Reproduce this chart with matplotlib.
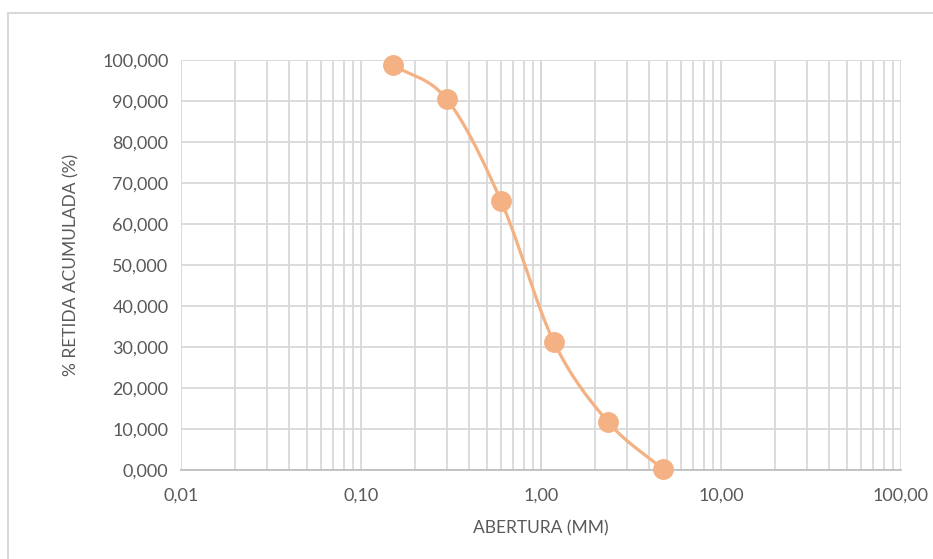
import numpy as np
import matplotlib.pyplot as plt
from matplotlib.ticker import FixedLocator, FuncFormatter, LogLocator

# dados da curva granulométrica
abertura = [0.15, 0.30, 0.60, 1.18, 2.36, 4.75]
retida_acum = [98.8, 90.4, 65.6, 31.2, 11.7, 0.2]

y_ticks = [0, 10, 20, 30, 40, 50, 60, 70, 80, 90, 100]
x_ticks = [0.01, 0.1, 1, 10, 100]

cor = "#F4B183"
cor_texto = "#595959"
cor_grade = "#D9D9D9"


def suavizar(xs, ys, n=30):
    # linha suavizada tipo Excel (Catmull-Rom), em escala log no x
    lx = np.log10(xs)
    ys = np.asarray(ys, dtype=float)
    px = np.concatenate([[2 * lx[0] - lx[1]], lx, [2 * lx[-1] - lx[-2]]])
    py = np.concatenate([[2 * ys[0] - ys[1]], ys, [2 * ys[-1] - ys[-2]]])
    out_x, out_y = [], []
    t = np.linspace(0, 1, n)
    for i in range(1, len(px) - 2):
        p0, p1, p2, p3 = px[i - 1:i + 3]
        q0, q1, q2, q3 = py[i - 1:i + 3]
        for a, b, c, d, res in ((p0, p1, p2, p3, out_x), (q0, q1, q2, q3, out_y)):
            c1 = b + (c - a) / 6
            c2 = c - (d - b) / 6
            res.extend((1 - t) ** 3 * b + 3 * (1 - t) ** 2 * t * c1
                       + 3 * (1 - t) * t ** 2 * c2 + t ** 3 * c)
    return 10 ** np.array(out_x), np.array(out_y)


plt.rcParams['font.family'] = ['Lato', 'DejaVu Sans']

fig = plt.figure(figsize=(9.33, 5.59), dpi=100)
ax = fig.add_axes([181 / 933, 1 - 470 / 559, 720 / 933, 410 / 559])

# moldura do gráfico
fig.patches.append(plt.Rectangle((8 / 933, -0.01), 1.1, 1 - 13 / 559 + 0.01,
                                 transform=fig.transFigure, fill=False,
                                 edgecolor=cor_grade, linewidth=1.5))

sx, sy = suavizar(abertura, retida_acum)
ax.plot(sx, sy, color=cor, linewidth=2.3, zorder=3, solid_capstyle='round')
ax.plot(abertura, retida_acum, 'o', color=cor, markersize=14, zorder=4,
        clip_on=False)

ax.set_xscale('log')
ax.set_xlim(0.01, 100)
ax.set_ylim(0, 100)

ax.xaxis.set_major_locator(FixedLocator(x_ticks))
ax.xaxis.set_minor_locator(LogLocator(base=10, subs=np.arange(2, 10)))
ax.xaxis.set_major_formatter(FuncFormatter(lambda v, p: f"{v:.2f}".replace('.', ',')))
ax.set_yticks(y_ticks)
ax.yaxis.set_major_formatter(FuncFormatter(lambda v, p: f"{v:.3f}".replace('.', ',')))

ax.grid(True, which='both', axis='x', color=cor_grade, linewidth=1.3)
ax.grid(True, which='major', axis='y', color=cor_grade, linewidth=1.3)
ax.axvline(1, color='#BFBFBF', linewidth=1.3, zorder=1)

for s in ['top', 'right', 'left']:
    ax.spines[s].set_visible(False)
ax.spines['bottom'].set_color('#BFBFBF')
ax.spines['bottom'].set_linewidth(1.3)

ax.tick_params(axis='both', which='both', length=0, labelsize=13,
               labelcolor=cor_texto)
ax.tick_params(axis='x', pad=13)
ax.tick_params(axis='y', pad=9)

ax.set_xlabel("ABERTURA (MM)", fontsize=12.5, color=cor_texto, labelpad=12)
ax.set_ylabel("% RETIDA ACUMULADA (%)", fontsize=12.5, color=cor_texto, labelpad=16)

fig.savefig("out.png", dpi=100)
